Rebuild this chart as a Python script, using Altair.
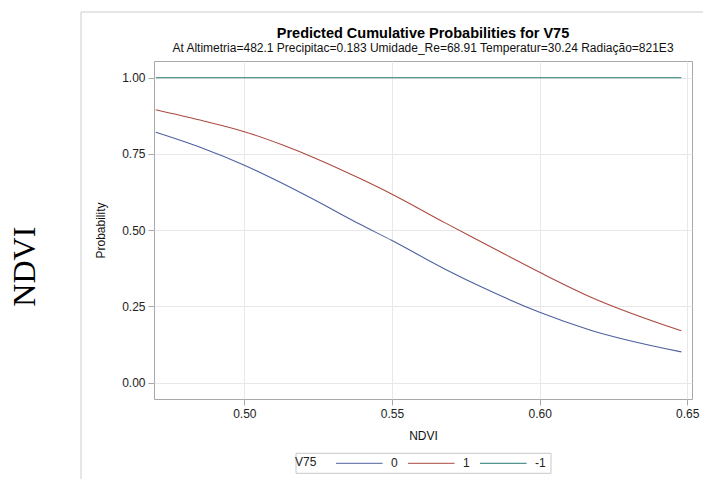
import altair as alt
import pandas as pd

# ---- data ----
ndvi = [0.470, 0.485, 0.500, 0.513, 0.524, 0.539, 0.550, 0.568, 0.580, 0.600, 0.617, 0.648]
prob_0 = [0.821, 0.772, 0.713, 0.653, 0.598, 0.520, 0.466, 0.372, 0.315, 0.231, 0.173, 0.101]
prob_1 = [0.895, 0.861, 0.823, 0.779, 0.736, 0.670, 0.618, 0.524, 0.463, 0.362, 0.282, 0.170]
prob_m1 = [1.0, 1.0, 1.0, 1.0, 1.0, 1.0, 1.0, 1.0, 1.0, 1.0, 1.0, 1.0]
levels = ["0", "1", "-1"]
colors = ["#4e60a0", "#ab4a3f", "#2a7a72"]
x_ticks = [0.50, 0.55, 0.60, 0.65]
y_ticks = [0.00, 0.25, 0.50, 0.75, 1.00]

rows = []
for lvl, ser in zip(levels, [prob_0, prob_1, prob_m1]):
    for xv, pv in zip(ndvi, ser):
        rows.append({"NDVI": xv, "Probability": pv, "V75": lvl})
df = pd.DataFrame(rows)

FONT = "Liberation Sans"
W, H = 538, 338
PAD_L, PAD_T = 154, 61
LEG_X, LEG_Y = 296 - PAD_L, 453.3 - PAD_T

lines = alt.Chart(df).mark_line(strokeWidth=1.1, interpolate="monotone").encode(
    x=alt.X("NDVI:Q",
            scale=alt.Scale(domain=[0.4694, 0.6516], nice=False, zero=False),
            axis=alt.Axis(values=x_ticks, format=".2f", title="NDVI", titlePadding=11)),
    y=alt.Y("Probability:Q",
            scale=alt.Scale(domain=[-0.0535, 1.0547], nice=False, zero=False),
            axis=alt.Axis(values=y_ticks, format=".2f", title="Probability", titlePadding=14)),
    color=alt.Color("V75:N",
                    scale=alt.Scale(domain=levels, range=colors),
                    sort=levels,
                    legend=alt.Legend(
                        orient="none", legendX=LEG_X - 5, legendY=LEG_Y,
                        direction="horizontal", titleOrient="left",
                        titleAlign="left", titleAnchor="start",
                        symbolType="M-1,0H8.32", symbolSize=100, symbolStrokeWidth=1,
                        padding=4,
                        labelOffset=44, columnPadding=8, titlePadding=18,
                        titleFontSize=12, titleFontWeight="normal", titleFont=FONT,
                        titleColor="#222222", labelFontSize=12, labelFont=FONT,
                        labelColor="#222222")),
)

frame_df = pd.DataFrame({"k": [0]})
left_rule = alt.Chart(frame_df).mark_rule(color="#cccccc", strokeWidth=1).encode(
    x=alt.value(81 - PAD_L), y=alt.value(12 - PAD_T), y2=alt.value(479 - PAD_T + 5))
top_rule = alt.Chart(frame_df).mark_rule(color="#cccccc", strokeWidth=1).encode(
    x=alt.value(81 - PAD_L), x2=alt.value(703 - PAD_L + 5), y=alt.value(12 - PAD_T))
legend_box = alt.Chart(frame_df).mark_rect(
    fill="transparent", stroke="#c8c8c8", strokeWidth=1).encode(
    x=alt.value(LEG_X), x2=alt.value(551 - PAD_L),
    y=alt.value(LEG_Y), y2=alt.value(473.3 - PAD_T))

side_df = pd.DataFrame({"t": ["NDVI"]})
side_text = alt.Chart(side_df).mark_text(
    font="Liberation Serif", fontSize=32, angle=270, align="center",
    baseline="middle", color="#000000").encode(
    x=alt.value(24.5 - PAD_L), y=alt.value(266.7 - PAD_T), text="t:N")

chart = alt.layer(left_rule, top_rule, legend_box, side_text, lines).properties(
    width=W, height=H,
    padding={"left": PAD_L, "top": PAD_T, "right": 703 - PAD_L - W, "bottom": 479 - PAD_T - H},
    autosize=alt.AutoSizeParams(type="none"),
    background="white",
    title=alt.TitleParams(
        text="Predicted Cumulative Probabilities for V75",
        subtitle="At Altimetria=482.1 Precipitac=0.183 Umidade_Re=68.91 Temperatur=30.24 Radiação=821E3",
        font=FONT, subtitleFont=FONT, fontSize=14.5, subtitleFontSize=12,
        fontWeight="bold", color="#000000", subtitleColor="#111111",
        anchor="middle", frame="group", offset=-43, subtitlePadding=1),
).configure_view(
    stroke="#a8a8a8", strokeWidth=1
).configure_axis(
    grid=True, gridColor="#e8e8e8", gridWidth=1,
    domain=False, tickColor="#a8a8a8", tickSize=6, labelPadding=3,
    labelFont=FONT, labelFontSize=12, labelColor="#222222",
    titleFont=FONT, titleFontSize=12, titleFontWeight="normal", titleColor="#111111",
)

chart.save("out.html", embed_options={"renderer": "svg", "actions": False})
